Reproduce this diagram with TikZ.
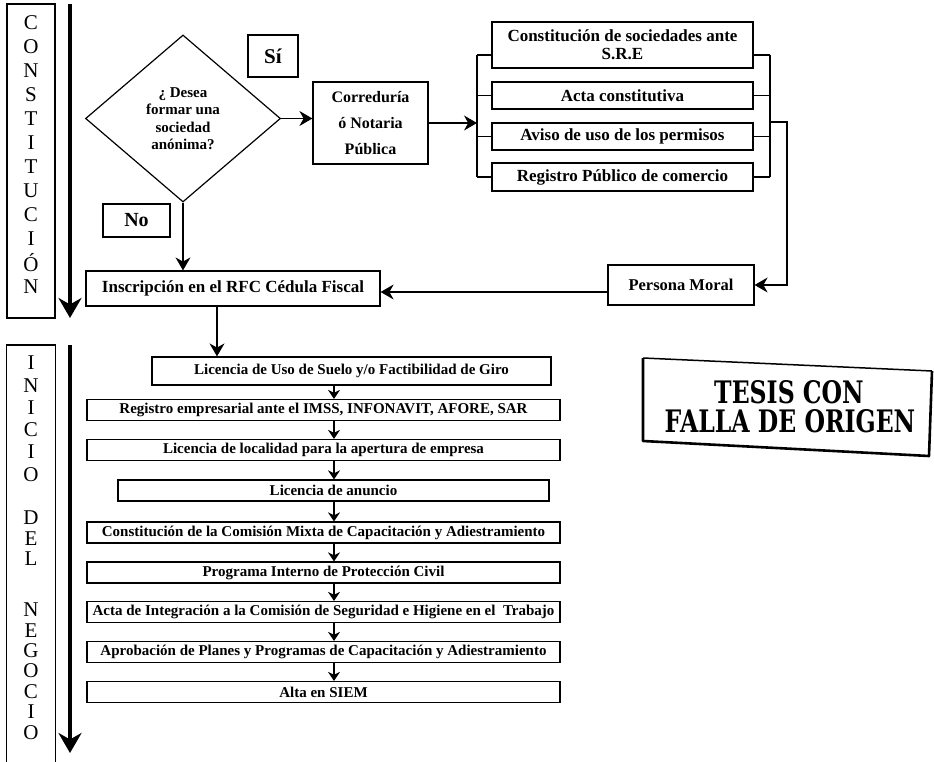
\documentclass[tikz,border=0pt]{standalone}
\usepackage{fontspec}
\setmainfont{Liberation Serif}
\newfontfamily\stampfont{DejaVu Serif}
\usetikzlibrary{arrows.meta,shapes.geometric,calc}
\newcommand{\bxf}{\fontsize{15}{18}\selectfont\bfseries}
\newcommand{\upf}{\fontsize{17}{18}\selectfont\bfseries}
\newcommand{\ltrf}{\fontsize{21}{21}\selectfont}
\begin{document}
\begin{tikzpicture}[x=1pt,y=-1pt,
  box/.style={draw, line width=1.2pt, inner sep=1pt, align=center, font=\bxf},
  upbox/.style={box, font=\upf},
  lane/.style={draw, line width=1.2pt, inner sep=0pt},
  ltr/.style={font=\ltrf, inner sep=0pt},
  conn/.style={line width=1.2pt},
  flowbig/.style={line width=1.2pt, -{Stealth[length=13pt,width=15pt]}},
  flowsm/.style={line width=1.1pt, -{Stealth[length=9pt,width=12pt]}},
  bigarrow/.style={line width=3.8pt, -{Stealth[length=20pt,width=23pt]}}]
\useasboundingbox (0,0) rectangle (934,762);

% ---- side lanes ----
\node[lane, minimum width=48pt, minimum height=314pt] (lane1) at (31,161) {};
\node[lane, minimum width=49pt, minimum height=440pt] (lane2) at (31,565) {};
\foreach \l/\y [count=\i] in {C/23,O/47,N/71,S/95,T/119,I/143,T/167,U/191,C/215,I/239,Ó/263,N/287}
  \node[ltr] (ca\i) at (31,\y) {\l};
\foreach \l/\y [count=\i] in {I/363,N/386,I/408,C/430,I/452,O/475,D/518,E/539,L/559,N/610,E/631,G/651,O/671,C/692,I/712,O/733}
  \node[ltr] (cb\i) at (31,\y) {\l};
\coordinate (a1s) at (70,4);
\coordinate (a1e) at (70,318);
\coordinate (a2s) at (70,345);
\coordinate (a2e) at (70,753);
\draw[bigarrow] (a1s) -- (a1e);
\draw[bigarrow] (a2s) -- (a2e);

% ---- decision ----
\node[diamond, draw, line width=1.2pt, minimum width=195pt, minimum height=167pt, inner sep=0pt,
      align=center, font=\fontsize{15}{17.5}\selectfont\bfseries] (dia) at (183,118.5)
      {¿ Desea\\formar una\\sociedad\\anónima?};
\node[box, line width=1.4pt, minimum width=50pt, minimum height=42pt,
      font=\fontsize{21}{21}\selectfont\bfseries] (si) at (273,56) {Sí};
\node[box, line width=1.4pt, minimum width=67pt, minimum height=33pt,
      font=\fontsize{20}{20}\selectfont\bfseries] (no) at (136.5,220.5) {No};
\node[box, minimum width=115pt, minimum height=82pt,
      font=\fontsize{16}{26}\selectfont\bfseries] (corr) at (370.5,123) {Correduría\\ó Notaria\\Pública};
\draw[flowbig] (dia.east) -- (dia.east -| corr.west);

% ---- constitution steps ----
\node[upbox, minimum width=261pt, minimum height=46pt] (s1) at (622.5,45)
  {Constitución de sociedades ante\\S.R.E};
\node[upbox, minimum width=261pt, minimum height=27pt] (s2) at (622.5,95.5) {Acta constitutiva};
\node[upbox, minimum width=261pt, minimum height=27pt] (s3) at (622.5,136.5) {Aviso de uso de los permisos};
\node[upbox, minimum width=261pt, minimum height=28pt] (s4) at (622.5,177) {Registro Público de comercio};

\coordinate (bl) at (477,123);
\coordinate (blT) at (477,55);
\coordinate (blB) at (477,177);
\draw[flowbig] (corr.east) -- (bl);
\draw[conn] (blT) -- (blB);
\draw[conn] (blT) -- (blT -| s1.west);
\draw[conn] (s2.west -| bl) -- (s2.west);
\draw[conn] (s3.west -| bl) -- (s3.west);
\draw[conn] (blB) -- (s4.west);

\coordinate (brT) at (770,55);
\coordinate (brB) at (770,177);
\coordinate (brO) at (770,122);
\coordinate (brO2) at (787,122);
\draw[conn] (brT) -- (brB);
\draw[conn] (brT -| s1.east) -- (brT);
\draw[conn] (s2.east) -- (s2.east -| brT);
\draw[conn] (s3.east) -- (s3.east -| brT);
\draw[conn] (s4.east) -- (brB);

\node[box, minimum width=146pt, minimum height=40pt, font=\fontsize{16.5}{18}\selectfont\bfseries] (pm) at (681,285) {Persona Moral};
\draw[flowbig] (brO) -- (brO2) -- (brO2 |- pm.east) -- (pm.east);

\node[box, minimum width=294pt, minimum height=35pt, font=\fontsize{17}{19}\selectfont\bfseries] (ins) at (233,288.5)
  {Inscripción en el RFC Cédula Fiscal};
\coordinate (pmw) at ($(pm.west)+(0,7)$);
\draw[flowbig] (pmw) -- (pmw -| ins.east);
\draw[flowbig] (dia.south) -- (dia.south |- ins.north);

% ---- business start ----
\node[box, minimum width=399pt, minimum height=28pt] (l1) at (351.5,371) {Licencia de Uso de Suelo y/o Factibilidad de Giro};
\node[box, minimum width=473pt, minimum height=21pt] (l2) at (323.5,410) {Registro empresarial ante el IMSS, INFONAVIT, AFORE, SAR};
\node[box, minimum width=473pt, minimum height=21pt] (l3) at (323.5,450) {Licencia de localidad para la apertura de empresa};
\node[box, minimum width=431pt, minimum height=21pt] (l4) at (333.5,490.5) {Licencia de anuncio};
\node[box, minimum width=473pt, minimum height=21pt] (l5) at (323.5,532.5) {Constitución de la Comisión Mixta de Capacitación y Adiestramiento};
\node[box, minimum width=473pt, minimum height=21pt] (l6) at (323.5,572.5) {Programa Interno de Protección Civil};
\node[box, minimum width=473pt, minimum height=21pt] (l7) at (323.5,612) {Acta de Integración a la Comisión de Seguridad e Higiene en el \ Trabajo};
\node[box, minimum width=473pt, minimum height=21pt] (l8) at (323.5,652) {Aprobación de Planes y Programas de Capacitación y Adiestramiento};
\node[box, minimum width=473pt, minimum height=21pt] (l9) at (323.5,692) {Alta en SIEM};

\coordinate (c1) at (217,0);
\draw[flowbig] (ins.south -| c1) -- (l1.north -| c1);
\coordinate (c2) at (334,0);
\foreach \a/\b in {l1/l2,l2/l3,l3/l4,l4/l5,l5/l6,l6/l7,l7/l8,l8/l9}
  \draw[flowsm] (\a.south -| c2) -- (\b.north -| c2);

% ---- stamp ----
\coordinate (st1) at (643,358);
\coordinate (st2) at (932,371);
\coordinate (st3) at (929,456);
\coordinate (st4) at (643,441);
\draw[line width=1.5pt] (st1) -- (st2);
\draw[line width=2.6pt, line join=round] (st2) -- (st3) -- (st4) -- (st1);
\node[inner sep=0pt] (t1) at (789,392) {\scalebox{0.76}[1]{\stampfont\bfseries\fontsize{31}{31}\selectfont TESIS CON}};
\node[inner sep=0pt] (t2) at (790,421) {\scalebox{0.76}[1]{\stampfont\bfseries\fontsize{31}{31}\selectfont FALLA DE ORIGEN}};
\end{tikzpicture}
\end{document}
